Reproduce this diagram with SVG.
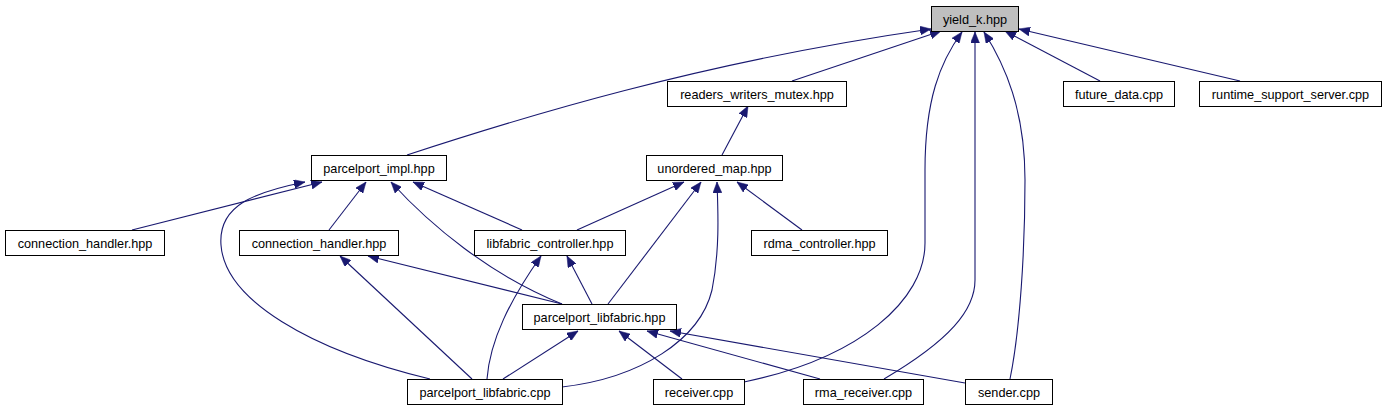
<svg xmlns="http://www.w3.org/2000/svg" width="1386" height="411" viewBox="0 0 1386 411">
<style>
.n rect{fill:#ffffff;stroke:#000000;stroke-width:1}
.n text{font-family:"Liberation Sans",Arial,sans-serif;font-size:12.7px;fill:#000000;text-anchor:middle}
.e path{fill:none;stroke:#191970;stroke-width:1.1;marker-end:url(#arr)}
</style>
<defs>
<marker id="arr" viewBox="0 0 11 9" refX="11" refY="4.5" markerWidth="11" markerHeight="9" markerUnits="userSpaceOnUse" orient="auto">
<path d="M0,0 L11,4.5 L0,9 z" fill="#191970" stroke="#191970" stroke-width="0.5"/>
</marker>
</defs>
<rect width="1386" height="411" fill="#ffffff"/>
<g id="edges" class="e">
<path d="M407,155 C520,118 700,62 931,29"/>
<path d="M792,81 L941,31"/>
<path d="M744,382 C860,358 925,300 925,243 L925,170 C925,100 940,62 962,32"/>
<path d="M884,379 C950,340 975,310 975,280 L975,32"/>
<path d="M1010,379 C1020,330 1025,250 1025,180 C1025,110 1005,65 984,32"/>
<path d="M1100,81 L1005,31"/>
<path d="M1240,81 L1019,29"/>
<path d="M722,155 L748,106"/>
<path d="M132,230 L322,182"/>
<path d="M430,379 C310,350 225,300 221,245 C218,205 255,192 305,182"/>
<path d="M329,230 L366,182"/>
<path d="M562,304 C490,275 430,225 391,182"/>
<path d="M522,230 L413,182"/>
<path d="M577,230 L684,182"/>
<path d="M608,304 L701,182"/>
<path d="M562,387 C640,378 700,340 712,290 C720,250 718,210 717,182"/>
<path d="M802,230 L737,182"/>
<path d="M562,304 L368,256"/>
<path d="M472,379 L340,256"/>
<path d="M487,379 C490,340 510,300 541,256"/>
<path d="M592,304 L567,256"/>
<path d="M503,379 L578,331"/>
<path d="M682,379 L619,331"/>
<path d="M820,379 L647,331"/>
<path d="M965,383 L670,331"/>
</g>
<g id="yield_k" class="n"><rect x="931.5" y="6.5" width="87" height="25" style="fill:#bfbfbf"/><text x="975" y="23.5">yield_k.hpp</text></g>
<g id="readers_writers_mutex" class="n"><rect x="667.5" y="81.5" width="179" height="25"/><text x="757" y="98.5">readers_writers_mutex.hpp</text></g>
<g id="future_data" class="n"><rect x="1063.5" y="81.5" width="111" height="25"/><text x="1119" y="98.5">future_data.cpp</text></g>
<g id="runtime_support_server" class="n"><rect x="1199.5" y="81.5" width="182" height="25"/><text x="1290.5" y="98.5">runtime_support_server.cpp</text></g>
<g id="parcelport_impl" class="n"><rect x="311.5" y="155.5" width="135" height="25"/><text x="379" y="172.5">parcelport_impl.hpp</text></g>
<g id="unordered_map" class="n"><rect x="646.5" y="155.5" width="136" height="25"/><text x="714.5" y="172.5">unordered_map.hpp</text></g>
<g id="connection_handler_1" class="n"><rect x="5.5" y="230.5" width="159" height="25"/><text x="85" y="247.5">connection_handler.hpp</text></g>
<g id="connection_handler_2" class="n"><rect x="239.5" y="230.5" width="159" height="25"/><text x="319" y="247.5">connection_handler.hpp</text></g>
<g id="libfabric_controller" class="n"><rect x="474.5" y="230.5" width="151" height="25"/><text x="550" y="247.5">libfabric_controller.hpp</text></g>
<g id="rdma_controller" class="n"><rect x="751.5" y="230.5" width="136" height="25"/><text x="819.5" y="247.5">rdma_controller.hpp</text></g>
<g id="parcelport_libfabric_hpp" class="n"><rect x="522.5" y="304.5" width="154" height="25"/><text x="599.5" y="321.5">parcelport_libfabric.hpp</text></g>
<g id="parcelport_libfabric_cpp" class="n"><rect x="407.5" y="379.5" width="155" height="25"/><text x="485" y="396.5">parcelport_libfabric.cpp</text></g>
<g id="receiver" class="n"><rect x="653.5" y="379.5" width="91" height="25"/><text x="699" y="396.5">receiver.cpp</text></g>
<g id="rma_receiver" class="n"><rect x="803.5" y="379.5" width="120" height="25"/><text x="863.5" y="396.5">rma_receiver.cpp</text></g>
<g id="sender" class="n"><rect x="965.5" y="379.5" width="87" height="25"/><text x="1009" y="396.5">sender.cpp</text></g>
</svg>
